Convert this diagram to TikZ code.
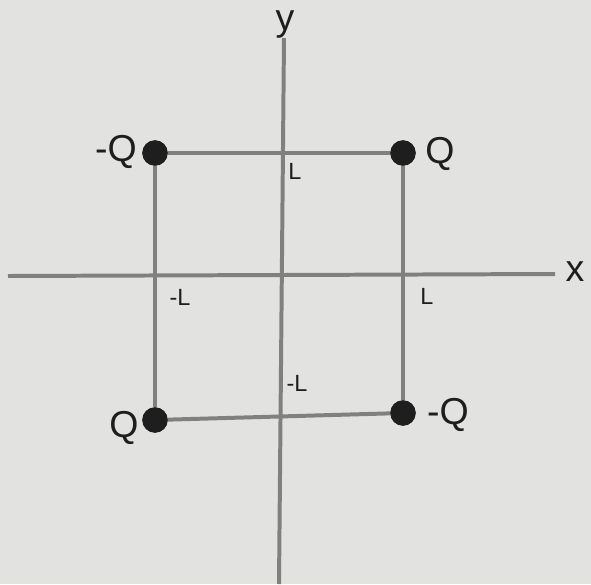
\documentclass[tikz,border=0pt]{standalone}
\usepackage{fontspec}
\setmainfont{Liberation Sans}
\usepackage{tikz}
\usetikzlibrary{positioning}
\definecolor{paper}{RGB}{226,226,224}
\definecolor{rod}{RGB}{128,128,126}
\definecolor{ink}{RGB}{30,30,30}

\begin{document}
\begin{tikzpicture}[x=0.3mm,y=-0.3mm,
 charge/.style={circle,fill=ink,inner sep=0pt,minimum size=7.6mm},
 big/.style={text=ink,font=\fontsize{32}{32}\selectfont,inner sep=0pt},
 small/.style={text=ink,font=\fontsize{20}{20}\selectfont,inner sep=0pt},
 line/.style={draw=rod,line width=3.4pt}]
\fill[paper](0,0)rectangle(591,584);
\useasboundingbox(0,0)rectangle(591,584);
% axes
\coordinate(xl)at(8,276);\coordinate(xr)at(555,274);
\coordinate(yt)at(284,38);\coordinate(yb)at(279,584);
\draw[line](xl)--(xr);\draw[line](yt)--(yb);
% charges
\node[charge](tl)at(155,153){};
\node[charge](tr)at(403,153){};
\node[charge](bl)at(155,420){};
\node[charge](br)at(403,413){};
\draw[line](tl)--(tr);\draw[line](tr)--(br);\draw[line](br)--(bl);\draw[line](bl)--(tl);
\node[charge]at(tl){};\node[charge]at(tr){};\node[charge]at(bl){};\node[charge]at(br){};
% labels
\node[big](qtl)at(116,152){-Q};
\node[big](qtr)at(440,154){Q};
\node[big](qbl)at(124,428){Q};
\node[big](qbr)at(448,415){-Q};
\node[small](ly)at(295,171){L};
\node[small](lx)at(427,296){L};
\node[small](mlx)at(180,297){-L};
\node[small](mly)at(297,383){-L};
\node[big](xlab)at(575,272){x};
\node[big](ylab)at(285,24){y};
\end{tikzpicture}
\end{document}
